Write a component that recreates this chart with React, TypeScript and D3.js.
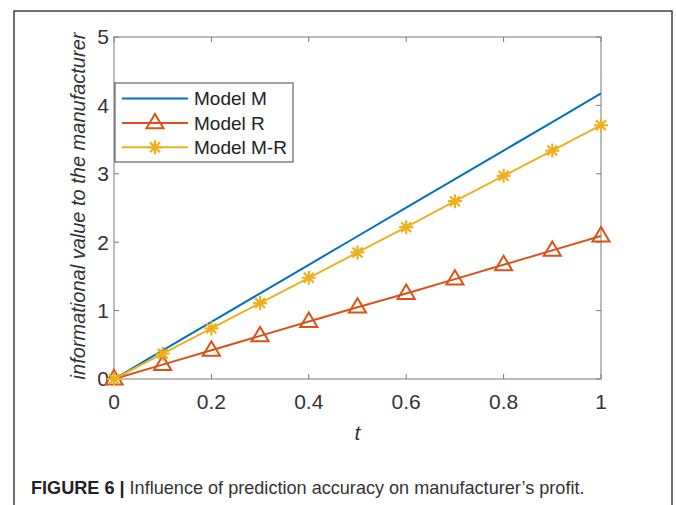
import { useEffect, useRef } from 'react';
import * as d3 from 'd3';

const tValues = [0, 0.1, 0.2, 0.3, 0.4, 0.5, 0.6, 0.7, 0.8, 0.9, 1];
const modelM = [0, 0.417, 0.835, 1.252, 1.67, 2.087, 2.505, 2.922, 3.34, 3.757, 4.175];
const modelR = [0, 0.21, 0.42, 0.63, 0.84, 1.05, 1.25, 1.46, 1.67, 1.88, 2.09];
const modelMR = [0, 0.37, 0.74, 1.11, 1.48, 1.85, 2.22, 2.6, 2.97, 3.34, 3.71];
const xTicks = [0, 0.2, 0.4, 0.6, 0.8, 1];
const yTicks = [0, 1, 2, 3, 4, 5];
const seriesNames = ['Model M', 'Model R', 'Model M-R'];

const BLUE = '#0072BD';
const RED = '#D95319';
const GOLD = '#EDB120';

const App = () => {
  const svgRef = useRef<SVGSVGElement>(null);

  const width = 676;
  const height = 505;
  const plot = { left: 114, top: 37, right: 601, bottom: 379 };

  useEffect(() => {
    if (!svgRef.current) return;
    const svg = d3.select(svgRef.current);
    svg.selectAll('*').remove();

    svg.append('rect').attr('width', width).attr('height', height).attr('fill', 'white');

    // outer frame of the figure
    svg.append('rect')
      .attr('x', 14).attr('y', 11)
      .attr('width', 658).attr('height', 510)
      .attr('fill', 'none')
      .attr('stroke', '#222')
      .attr('stroke-width', 1.3);

    const x = d3.scaleLinear().domain([0, 1]).range([plot.left, plot.right]);
    const y = d3.scaleLinear().domain([0, 5]).range([plot.bottom, plot.top]);

    const font = 'Helvetica, Arial, "Liberation Sans", sans-serif';
    const axisColor = '#7a7a7a';

    // box
    svg.append('rect')
      .attr('x', plot.left).attr('y', plot.top)
      .attr('width', plot.right - plot.left).attr('height', plot.bottom - plot.top)
      .attr('fill', 'none')
      .attr('stroke', axisColor)
      .attr('stroke-width', 1);

    // inward ticks on all four sides
    const tickLen = 5;
    const g = svg.append('g').attr('stroke', axisColor).attr('stroke-width', 1);
    xTicks.forEach(t => {
      g.append('line').attr('x1', x(t)).attr('x2', x(t)).attr('y1', plot.bottom).attr('y2', plot.bottom - tickLen);
      g.append('line').attr('x1', x(t)).attr('x2', x(t)).attr('y1', plot.top).attr('y2', plot.top + tickLen);
    });
    yTicks.forEach(t => {
      g.append('line').attr('y1', y(t)).attr('y2', y(t)).attr('x1', plot.left).attr('x2', plot.left + tickLen);
      g.append('line').attr('y1', y(t)).attr('y2', y(t)).attr('x1', plot.right).attr('x2', plot.right - tickLen);
    });

    // tick labels
    svg.append('g').selectAll('text')
      .data(xTicks).enter().append('text')
      .attr('x', d => x(d)).attr('y', plot.bottom + 30)
      .attr('text-anchor', 'middle')
      .attr('font-family', font).attr('font-size', 21)
      .attr('fill', '#333')
      .text(d => d3.format('~g')(d));

    svg.append('g').selectAll('text')
      .data(yTicks).enter().append('text')
      .attr('x', plot.left - 5).attr('y', d => y(d))
      .attr('dy', '0.35em')
      .attr('text-anchor', 'end')
      .attr('font-family', font).attr('font-size', 21)
      .attr('fill', '#333')
      .text(d => String(d));

    // axis titles
    svg.append('text')
      .attr('x', x(0.5)).attr('y', 440)
      .attr('text-anchor', 'middle')
      .attr('font-family', font).attr('font-size', 21).attr('font-style', 'italic')
      .attr('fill', '#333')
      .text('t');

    svg.append('text')
      .attr('transform', `translate(85, ${(plot.top + plot.bottom) / 2 - 2}) rotate(-90)`)
      .attr('text-anchor', 'middle')
      .attr('font-family', font).attr('font-size', 20).attr('font-style', 'italic')
      .attr('fill', '#333')
      .text('informational value to the manufacturer');

    const line = d3.line<[number, number]>().x(d => x(d[0])).y(d => y(d[1]));
    const zip = (vals: number[]) => tValues.map((t, i) => [t, vals[i]] as [number, number]);

    const triPath = (s: number) => `M0,${-s}L${s * 0.95},${s * 0.6}L${-s * 0.95},${s * 0.6}Z`;
    const starPath = (s: number) => {
      const parts: string[] = [];
      for (let k = 0; k < 4; k++) {
        const a = (k * Math.PI) / 4;
        parts.push(`M${-s * Math.cos(a)},${-s * Math.sin(a)}L${s * Math.cos(a)},${s * Math.sin(a)}`);
      }
      return parts.join('');
    };

    // Model M
    svg.append('path').datum(zip(modelM)).attr('d', line)
      .attr('fill', 'none').attr('stroke', BLUE).attr('stroke-width', 2);

    // Model R
    svg.append('path').datum(zip(modelR)).attr('d', line)
      .attr('fill', 'none').attr('stroke', RED).attr('stroke-width', 2);
    svg.append('g').selectAll('path').data(zip(modelR)).enter().append('path')
      .attr('transform', d => `translate(${x(d[0])},${y(d[1])})`)
      .attr('d', triPath(9))
      .attr('fill', 'none').attr('stroke', RED).attr('stroke-width', 2);

    // Model M-R
    svg.append('path').datum(zip(modelMR)).attr('d', line)
      .attr('fill', 'none').attr('stroke', GOLD).attr('stroke-width', 2);
    svg.append('g').selectAll('path').data(zip(modelMR)).enter().append('path')
      .attr('transform', d => `translate(${x(d[0])},${y(d[1])})`)
      .attr('d', starPath(7))
      .attr('fill', 'none').attr('stroke', GOLD).attr('stroke-width', 2.2);

    // legend
    const lg = svg.append('g');
    lg.append('rect')
      .attr('x', 115).attr('y', 83).attr('width', 178).attr('height', 79)
      .attr('fill', 'white').attr('stroke', '#444').attr('stroke-width', 1);
    const colors = [BLUE, RED, GOLD];
    seriesNames.forEach((name, i) => {
      const cy = 98.5 + i * 24.4;
      lg.append('line').attr('x1', 122).attr('x2', 188).attr('y1', cy).attr('y2', cy)
        .attr('stroke', colors[i]).attr('stroke-width', 2);
      if (i === 1) {
        lg.append('path').attr('transform', `translate(155,${cy})`).attr('d', triPath(9))
          .attr('fill', 'none').attr('stroke', RED).attr('stroke-width', 2);
      }
      if (i === 2) {
        lg.append('path').attr('transform', `translate(155,${cy})`).attr('d', starPath(7))
          .attr('fill', 'none').attr('stroke', GOLD).attr('stroke-width', 2.2);
      }
      lg.append('text').attr('x', 194).attr('y', cy).attr('dy', '0.35em')
        .attr('font-family', font).attr('font-size', 19).attr('fill', '#222')
        .text(name);
    });

    // caption
    const cap = svg.append('text')
      .attr('x', 31).attr('y', 494)
      .attr('font-family', font).attr('font-size', 18.1).attr('fill', '#333');
    cap.append('tspan').attr('font-weight', 'bold').attr('fill', '#222').text('FIGURE 6 |');
    cap.append('tspan').text(' Influence of prediction accuracy on manufacturer\u2019s profit.');
  }, []);

  return (
    <svg
      ref={svgRef}
      width={width}
      height={height}
      style={{ position: 'absolute', left: 0, top: 0, display: 'block' }}
    />
  );
};

export default App;
